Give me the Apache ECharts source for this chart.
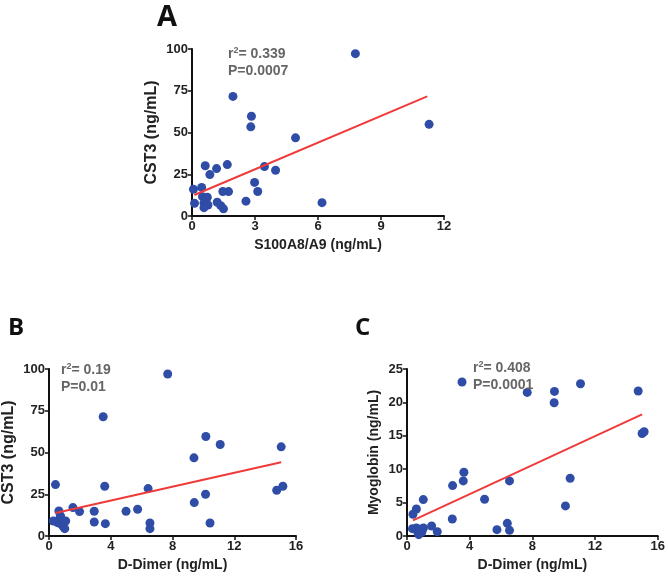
<!DOCTYPE html>
<html>
<head>
<meta charset="utf-8">
<script src="https://cdn.jsdelivr.net/npm/echarts@6/dist/echarts.min.js"></script>
<style>
  html, body { margin: 0; padding: 0; background: #fff; }
  #dom { width: 668px; height: 577px; }
</style>
</head>
<body>
<div id="dom"></div>
<script>
// panel A: S100A8/A9 vs CST3
var aX = [7.78, 1.95, 2.83, 2.8, 11.29, 4.93, 0.63, 1.68, 1.17, 3.45, 3.98, 0.85, 0.07, 0.46, 2.98, 3.13, 1.47, 1.74, 0.12, 0.5, 0.73, 0.57, 0.76, 0.57, 1.2, 1.37, 1.5, 2.57, 6.19, 0.66];
var aY = [97.2, 71.6, 59.7, 53.4, 54.9, 46.8, 30.1, 30.8, 28.4, 29.6, 27.4, 24.8, 16, 17.1, 20.1, 14.7, 14.7, 14.6, 7.6, 11.6, 11.2, 7.8, 6.6, 5, 8.2, 6.2, 4.3, 8.9, 8, 9.5];
var aFitX = [0.11, 11.2];
var aFitY = [12.6, 71.6];

// panel B: D-Dimer vs CST3
var bX = [0.42, 0.64, 0.28, 0.55, 0.7, 0.8, 0.9, 0.75, 1.02, 1.08, 1.55, 1.98, 2.93, 2.93, 3.51, 3.61, 3.65, 4.99, 5.74, 6.42, 6.54, 6.54, 7.69, 9.39, 9.41, 10.16, 10.14, 10.43, 11.09, 15.04, 14.75, 15.15];
var bY = [30.8, 15, 9, 8, 10.5, 7, 6, 12, 4.4, 9, 17, 14.6, 14.8, 8.4, 71.4, 29.8, 7.4, 14.8, 16, 28.4, 7.8, 4.4, 97, 46.8, 20, 59.6, 25, 7.8, 54.8, 53.4, 27.4, 29.8];
var bFitX = [0.42, 15.04];
var bFitY = [13.8, 44.2];

// panel C: D-Dimer vs Myoglobin
var cX = [3.51, 7.67, 9.41, 9.39, 11.07, 14.75, 15.0, 15.13, 3.63, 3.59, 2.91, 6.54, 10.41, 10.11, 4.95, 1.04, 0.6, 0.38, 2.89, 1.57, 1.93, 6.4, 5.74, 6.54, 0.35, 0.6, 0.7, 0.85, 0.95, 1.05, 0.75];
var cY = [23.05, 21.5, 21.65, 19.95, 22.8, 21.7, 15.35, 15.6, 9.55, 8.25, 7.55, 8.25, 8.65, 4.5, 5.5, 5.45, 4.05, 3.25, 2.55, 1.5, 0.65, 1.9, 0.95, 0.85, 1.1, 1.2, 0.5, 1.0, 0.6, 1.2, 0.2];
var cFitX = [0.38, 15.0];
var cFitY = [2.35, 18.2];

var stats = [['0.339', '0.0007'], ['0.19', '0.01'], ['0.408', '0.0001']];

function pairs(xs, ys) {
  var out = [];
  for (var i = 0; i < xs.length; i++) out.push([xs[i], ys[i]]);
  return out;
}

var font = 'Liberation Sans, Arial, sans-serif';
var axisLine = { lineStyle: { color: '#111', width: 2 } };
var axisTick = { inside: false, length: 4, lineStyle: { color: '#111', width: 1.5 } };
var axisLabel = { color: '#222', fontSize: 13, fontWeight: 'bold', fontFamily: font, margin: 4 };

function nameStyle(size) {
  return { color: '#222', fontSize: size, fontWeight: 'bold', fontFamily: font };
}
function xAxis(idx, max, interval, name) {
  return {
    type: 'value', gridIndex: idx, min: 0, max: max, interval: interval,
    name: name, nameLocation: 'middle', nameGap: 22, nameTextStyle: nameStyle(14),
    axisLine: axisLine, axisTick: axisTick, axisLabel: axisLabel,
    splitLine: { show: false }
  };
}
function yAxis(idx, max, interval, name, size, gap) {
  return {
    type: 'value', gridIndex: idx, min: 0, max: max, interval: interval,
    name: name, nameLocation: 'middle', nameGap: gap, nameRotate: 90, nameTextStyle: nameStyle(size),
    axisLine: axisLine, axisTick: axisTick, axisLabel: axisLabel,
    splitLine: { show: false }
  };
}
function dots(idx, xs, ys) {
  return {
    type: 'scatter', xAxisIndex: idx, yAxisIndex: idx, data: pairs(xs, ys),
    symbolSize: 9, itemStyle: { color: '#2f4da6', opacity: 1 }, z: 3
  };
}
function fit(idx, xs, ys) {
  return {
    type: 'line', xAxisIndex: idx, yAxisIndex: idx, data: pairs(xs, ys),
    symbol: 'none', lineStyle: { color: '#f03a3a', width: 2 }, z: 4, silent: true
  };
}
function statText(i, left, top) {
  return {
    text: '{t|r}{s|2}{t|= ' + stats[i][0] + '}\n{t|P=' + stats[i][1] + '}',
    left: left, top: top, padding: 0,
    textStyle: {
      rich: {
        t: { color: '#666', fontSize: 14, fontWeight: 'bold', fontFamily: font, lineHeight: 17 },
        s: { color: '#666', fontSize: 9, fontWeight: 'bold', fontFamily: font, verticalAlign: 'top', lineHeight: 17 }
      }
    }
  };
}
function letter(txt, left, top, size) {
  return {
    text: txt, left: left, top: top, padding: 0,
    textStyle: { color: '#111', fontSize: size, fontWeight: 'bold', fontFamily: 'Open Sans, sans-serif' }
  };
}

var myChart = echarts.init(document.getElementById('dom'), null, { renderer: 'canvas' });
var option = {
  backgroundColor: '#fff',
  animation: false,
  title: [
    letter('A', 157, 3, 29),
    letter('B', 8, 316, 24),
    letter('C', 355, 316, 24),
    statText(0, 228, 46),
    statText(1, 61, 362),
    statText(2, 473, 360)
  ],
  grid: [
    { left: 192, top: 49, width: 252, height: 167 },
    { left: 45, top: 369, width: 251, height: 167 },
    { left: 407, top: 369, width: 251, height: 167 }
  ],
  xAxis: [
    xAxis(0, 12, 3, 'S100A8/A9 (ng/mL)'),
    xAxis(1, 16, 4, 'D-Dimer (ng/mL)'),
    xAxis(2, 16, 4, 'D-Dimer (ng/mL)')
  ],
  yAxis: [
    yAxis(0, 100, 25, 'CST3 (ng/mL)', 16, 32),
    yAxis(1, 100, 25, 'CST3 (ng/mL)', 16, 32),
    yAxis(2, 25, 5, 'Myoglobin (ng/mL)', 14, 26)
  ],
  series: [
    dots(0, aX, aY), fit(0, aFitX, aFitY),
    dots(1, bX, bY), fit(1, bFitX, bFitY),
    dots(2, cX, cY), fit(2, cFitX, cFitY)
  ]
};
myChart.setOption(option);
</script>
</body>
</html>
